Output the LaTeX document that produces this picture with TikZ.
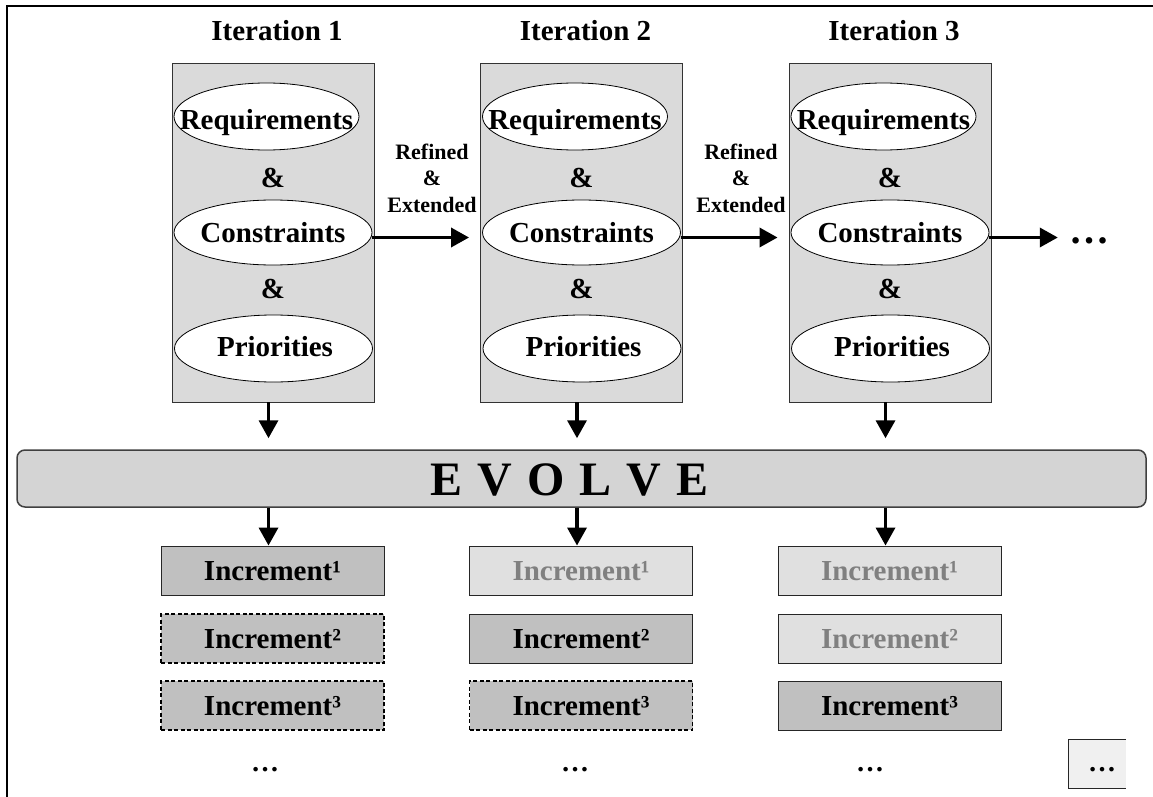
\documentclass[tikz,border=0pt]{standalone}
\usepackage{fontspec}
\setmainfont{Liberation Serif}
\usetikzlibrary{arrows.meta,shapes.geometric}
\definecolor{colfill}{HTML}{DADADA}
\definecolor{evfill}{HTML}{D4D4D4}
\definecolor{incdark}{HTML}{C0C0C0}
\definecolor{inclight}{HTML}{E0E0E0}
\definecolor{inctext}{HTML}{808080}
\definecolor{morefill}{HTML}{F0F0F0}
\begin{document}
\begin{tikzpicture}[x=1pt,y=-1pt,
  txt/.style={font=\fontsize{29}{34}\selectfont\bfseries, inner sep=0pt, anchor=base},
  small/.style={font=\fontsize{22}{26.5}\selectfont\bfseries, inner sep=0pt, align=center},
  colbox/.style={draw=black!80, fill=colfill, line width=0.9pt, minimum width=202pt, minimum height=339pt, inner sep=0pt},
  ell/.style={ellipse, draw=black, fill=white, line width=0.8pt, inner sep=0pt},
  inc/.style={draw=black!85, line width=0.9pt, minimum width=223pt, minimum height=49pt, inner sep=0pt},
  incdark/.style={inc, fill=incdark},
  inclight/.style={inc, fill=inclight},
  incdash/.style={inc, draw=black, fill=incdark, line width=1.2pt, dash pattern=on 4pt off 2.5pt},
  arr/.style={line width=3.5pt, -{Triangle[length=18pt,width=19pt]}},
]
\useasboundingbox (0,0) rectangle (1153,797);
% frame
\draw[line width=2.8pt] (7,800) -- (7,6) -- (1156,6);

% columns
\foreach \i/\cx in {1/273,2/581.5,3/890}{
  \node[txt] (t\i) at (\cx+4,41) {Iteration \i};
  \node[colbox] (c\i) at (\cx,232.5) {};
  \node[ell, minimum width=185pt, minimum height=67pt] (req\i) at (\cx-6.5,116.5) {};
  \node[txt] (reqt\i) at (\cx-6.5,130) {Requirements};
  \node[txt] (ampa\i) at (\cx,187) {\&};
  \node[ell, minimum width=198pt, minimum height=65pt] (con\i) at (\cx,232.5) {};
  \node[txt] (cont\i) at (\cx,242) {Constraints};
  \node[txt] (ampb\i) at (\cx,298) {\&};
  \node[ell, minimum width=198pt, minimum height=67pt] (pri\i) at (\cx+0.5,348.5) {};
  \node[txt] (prit\i) at (\cx+2,356) {Priorities};
}

% refined labels
\node[small] (ref1) at (432,178) {Refined\\\&\\Extended};
\node[small] (ref2) at (741,178) {Refined\\\&\\Extended};
\node[txt, font=\fontsize{40}{44}\selectfont\bfseries] (more) at (1089,243) {…};

% EVOLVE
\node[draw=black!75, fill=evfill, line width=1.5pt, rounded corners=8pt,
      minimum width=1129pt, minimum height=57pt, inner sep=0pt] (ev) at (581.5,478.5) {};
\node[txt, font=\fontsize{48}{52}\selectfont\bfseries] (evt) at (569.5,495)
  {E\hspace{15pt}V\hspace{15pt}O\hspace{15pt}L\hspace{15pt}V\hspace{15pt}E};

% increments
\node[incdark] (inc11) at (272.5,570.5) {};
\node[incdash] (inc12) at (272.5,638.5) {};
\node[incdash] (inc13) at (272.5,705.5) {};
\node[inclight] (inc21) at (581,570.5) {};
\node[incdark] (inc22) at (581,638.5) {};
\node[incdash] (inc23) at (581,705.5) {};
\node[inclight] (inc31) at (889.5,570.5) {};
\node[inclight] (inc32) at (889.5,638.5) {};
\node[incdark] (inc33) at (889.5,705.5) {};

\node[txt] (it11) at (272.5,580) {Increment¹};
\node[txt] (it12) at (272.5,648) {Increment²};
\node[txt] (it13) at (272.5,715) {Increment³};
\node[txt, text=inctext] (it21) at (581,580) {Increment¹};
\node[txt] (it22) at (581,648) {Increment²};
\node[txt] (it23) at (581,715) {Increment³};
\node[txt, text=inctext] (it31) at (889.5,580) {Increment¹};
\node[txt, text=inctext] (it32) at (889.5,648) {Increment²};
\node[txt] (it33) at (889.5,715) {Increment³};

\node[txt, font=\fontsize{28}{32}\selectfont\bfseries] (d1) at (265,771) {…};
\node[txt, font=\fontsize{28}{32}\selectfont\bfseries] (d2) at (575,771) {…};
\node[txt, font=\fontsize{28}{32}\selectfont\bfseries] (d3) at (870,771) {…};

% extra box, open on the right
\fill[morefill] (1068,739) rectangle (1126,788);
\draw[black!85, line width=0.9pt] (1126,739) -- (1068,739) -- (1068,788) -- (1126,788);
\node[txt, font=\fontsize{28}{32}\selectfont\bfseries] (d4) at (1102,771) {…};

% arrows
\draw[arr, shorten >=11pt] ([yshift=-5pt]con1.east) -- ([yshift=-5pt]con1.east -| c2.west);
\draw[arr, shorten >=11pt] ([yshift=-5pt]con2.east) -- ([yshift=-5pt]con2.east -| c3.west);
\draw[arr, shorten >=11pt] ([yshift=-5pt]con3.east) -- ([yshift=-5pt]con3.east -| more.west);
\foreach \i in {1,2,3}{
  \draw[arr, shorten >=11pt] ([xshift=-4.5pt]c\i.south) -- ([xshift=-4.5pt]c\i.south |- ev.north);
  \draw[arr] ([xshift=-4pt]inc\i1.north |- ev.south) -- ([xshift=-4pt]inc\i1.north);
}
\end{tikzpicture}
\end{document}
